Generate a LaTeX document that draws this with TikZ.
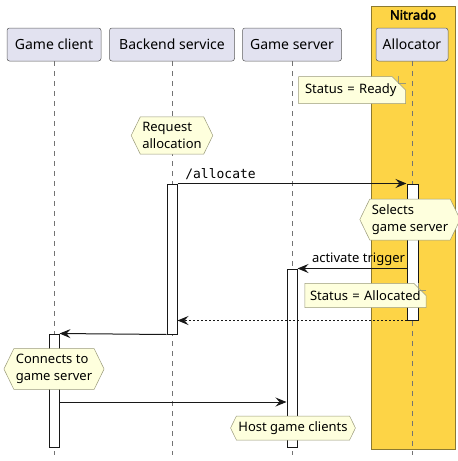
\documentclass[tikz,border=0pt]{standalone}
\usepackage{fontspec}
\setmainfont{Noto Sans}[BoldFont={Noto Sans}, BoldFeatures={FakeBold=2.5}]
\setmonofont{DejaVu Sans Mono}
\usetikzlibrary{arrows, arrows.meta, positioning, shapes.symbols, shapes.misc, calc}
\definecolor{partfill}{HTML}{E2E2F0}
\definecolor{notefill}{HTML}{FEFFDD}
\definecolor{noteline}{HTML}{9A9A7A}
\definecolor{boxfill}{HTML}{FDD446}
\definecolor{boxline}{HTML}{8C7A30}
\definecolor{lineblack}{HTML}{181818}
\tikzstyle{participant} = [rectangle, minimum height=33pt, text centered, draw=lineblack!70, line width=0.5pt, fill=partfill, rounded corners=2.5pt, font=\fontsize{14}{16}\selectfont]
\tikzstyle{lifeline} = [draw=gray!90!black, line width=0.5pt, dash pattern=on 5pt off 5pt]
\tikzstyle{activation} = [rectangle, minimum width=10pt, draw=lineblack, fill=white, line width=1pt, inner sep=0pt]
\tikzstyle{hexnote} = [signal, signal to=east and west, signal pointer angle=128, draw=noteline, fill=notefill, line width=0.5pt, align=left, inner xsep=2pt, inner ysep=5.5pt, font=\fontsize{13}{17}\selectfont]
\tikzstyle{notebox} = [chamfered rectangle, chamfered rectangle corners=north east, chamfered rectangle xsep=8pt, chamfered rectangle ysep=7pt, draw=noteline, fill=notefill, line width=0.5pt, align=left, inner xsep=0pt, inner ysep=0pt, font=\fontsize{13}{15}\selectfont]
\tikzstyle{fold} = [draw=noteline, line width=0.5pt]
\tikzstyle{nitradobox} = [rectangle, draw=boxline, fill=boxfill, line width=0.8pt]
\tikzstyle{arrow} = [line width=1pt, draw=lineblack, -{Stealth[length=11pt, width=9pt, inset=4pt]}]
\tikzstyle{reply} = [arrow, dash pattern=on 2pt off 2pt]

\begin{document}
\begin{tikzpicture}[x=1pt, y=-1pt]
    \useasboundingbox (0,0) rectangle (458,461);
    % Box
    \node (nitrado) [nitradobox, minimum width=84pt, minimum height=443pt] at (413,227.5) {};
    \node (nitradolabel) [below=3pt of nitrado.north, inner sep=1pt, font=\bfseries\fontsize{13}{15}\selectfont] {Nitrado};

    % Participants
    \node (client) [participant, minimum width=94pt] at (54,44.5) {Game client};
    \node (backend) [participant, minimum width=125pt] at (172,44.5) {Backend service};
    \node (server) [participant, minimum width=99pt] at (292,44.5) {Game server};
    \node (allocator) [participant, minimum width=72pt] at (412,44.5) {Allocator};

    % Lifelines
    \coordinate (end) at (0,455);
    \foreach \p in {client, backend, server, allocator}
        \draw [lifeline] (\p.south) -- (\p.south |- end);

    % Activations
    \node (backendact) [activation, minimum height=150pt] at (172,259) {};
    \node (allocact) [activation, minimum height=136pt, minimum width=11pt] at (412.5,252) {};
    \node (serveract) [activation, minimum height=178pt] at (292,358) {};
    \node (clientact) [activation, minimum height=113pt] at (54,390.5) {};

    % Notes
    \node (ready) [notebox, text width=94pt] at (352,90) {Status = Ready};
    \node (allocated) [notebox, text width=111pt] at (365.5,295.5) {Status = Allocated};
    \foreach \n in {ready, allocated}
        \draw [fold] ($(\n.north -| \n.east)+(-8,0)$) |- ($(\n.north -| \n.east)+(0,7)$);
    \node (request) [hexnote] at (172,135.5) {Request\\allocation};
    \node (selects) [hexnote] at (410,219.5) {Selects\\game server};
    \node (connects) [hexnote] at (54,369) {Connects to\\game server};
    \node (host) [hexnote] at (293,428) {Host game clients};

    % Arrows
    \draw [arrow] (backendact.north east) -- (allocact.north west)
        node [pos=0, anchor=south west, xshift=4pt, font=\ttfamily\fontsize{13}{15}\selectfont] {/allocate};
    \draw [arrow] (allocact.west |- serveract.north) -- (serveract.north east)
        node [pos=0, anchor=south east, xshift=-1pt, inner xsep=0pt, inner ysep=2pt, font=\fontsize{13}{15}\selectfont] {activate trigger};
    \draw [reply] (allocact.south west) -- (backendact.east |- allocact.south);
    \draw [arrow] (backendact.south west) -- (clientact.north east);
    \coordinate (connectmsg) at (0,402);
    \draw [arrow] (clientact.east |- connectmsg) -- (serveract.west |- connectmsg);
\end{tikzpicture}
\end{document}
